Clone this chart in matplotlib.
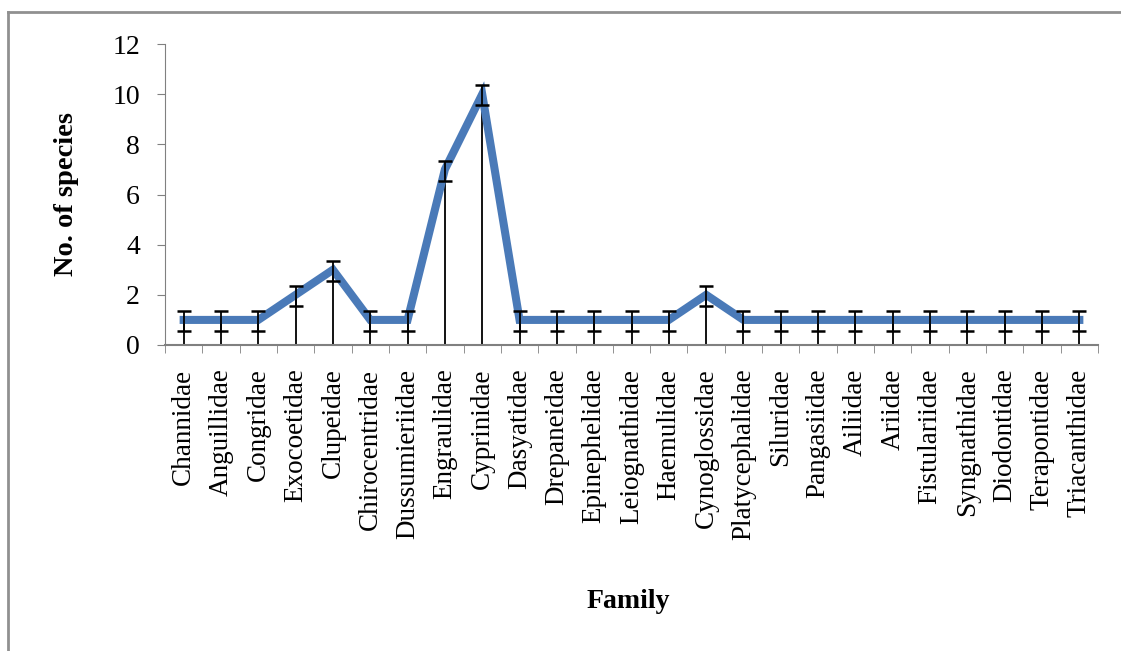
import matplotlib.pyplot as plt
import numpy as np
from matplotlib.lines import Line2D

families = [
    "Channidae", "Anguillidae", "Congridae", "Exocoetidae", "Clupeidae",
    "Chirocentridae", "Dussumieriidae", "Engraulidae", "Cyprinidae",
    "Dasyatidae", "Drepaneidae", "Epinephelidae", "Leiognathidae",
    "Haemulidae", "Cynoglossidae", "Platycephalidae", "Siluridae",
    "Pangasiidae", "Ailiidae", "Ariidae", "Fistulariidae", "Syngnathidae",
    "Diodontidae", "Terapontidae", "Triacanthidae",
]
n_species = [1, 1, 1, 2, 3, 1, 1, 7, 10, 1, 1, 1, 1, 1, 2, 1, 1, 1, 1, 1, 1, 1, 1, 1, 1]
err_low = [0.45] * len(families)
err_high = [0.35] * len(families)

plt.rcParams["font.family"] = ["Liberation Serif", "DejaVu Serif"]

fig = plt.figure(figsize=(11.21, 6.51), dpi=100)
ax = fig.add_axes([165 / 1121, 1 - 345 / 651, (1098 - 165) / 1121, (345 - 44) / 651])

x = np.arange(len(families))
y = np.array(n_species)

# drop lines from the axis up to each point
ax.vlines(x, 0, y, color="black", lw=1.3, zorder=2)
ax.plot(x, y, color="#4a7ab8", lw=5.8, solid_joinstyle="miter", zorder=3)
ax.errorbar(x, y, yerr=[err_low, err_high], fmt="none", ecolor="black",
            elinewidth=1.3, capsize=5, capthick=1.8, zorder=4)

ax.set_xlim(-0.5, len(families) - 0.5)
ax.set_ylim(0, 12)
ax.set_yticks(range(0, 13, 2))
ax.tick_params(axis="y", labelsize=20, length=6, color="#808080", pad=12)

ax.set_xticks(x)
ax.set_xticklabels(families, rotation=90, fontsize=19.5, va="top")
ax.set_xticks(np.arange(len(families) + 1) - 0.5, minor=True)
ax.tick_params(axis="x", which="major", length=0, pad=17)
ax.tick_params(axis="x", which="minor", length=6, color="#808080", direction="out")

for side in ["top", "right"]:
    ax.spines[side].set_visible(False)
ax.spines["left"].set_color("#808080")
ax.spines["bottom"].set_color("#808080")
ax.spines["bottom"].set_linewidth(1.5)

ax.set_ylabel("No. of species", fontsize=20.5, fontweight="bold", labelpad=24)
fig.text(628 / 1121, 1 - 602 / 651, "Family", fontsize=20, fontweight="bold",
         ha="center", va="center")

# outer chart border (top and left visible)
fig.add_artist(Line2D([8 / 1121, 1.0], [1 - 12 / 651, 1 - 12 / 651],
                      transform=fig.transFigure, color="#909090", lw=2))
fig.add_artist(Line2D([8 / 1121, 8 / 1121], [0.0, 1 - 12 / 651],
                      transform=fig.transFigure, color="#909090", lw=2))

fig.savefig("out.png", dpi=100)
